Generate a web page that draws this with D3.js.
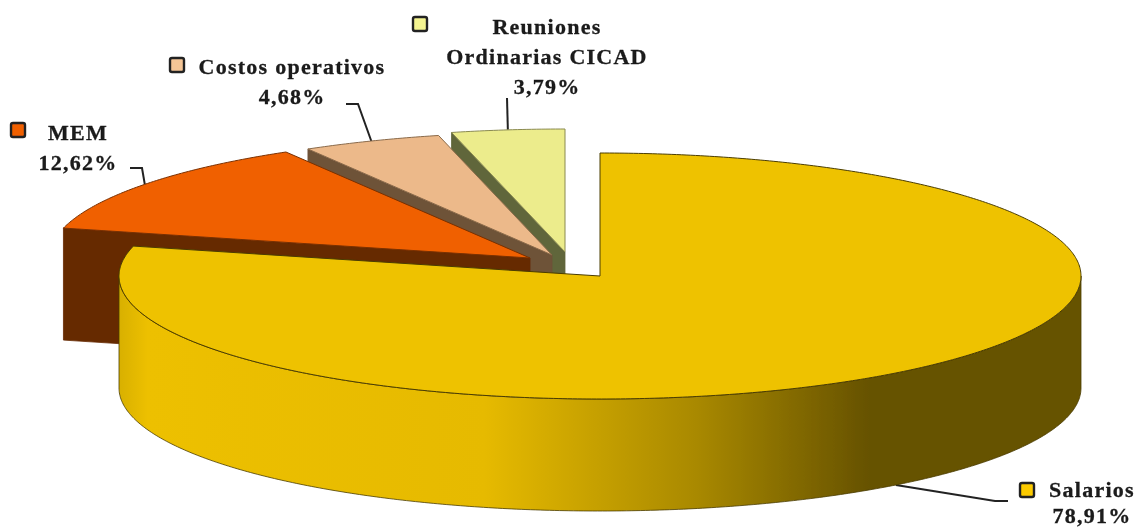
<!DOCTYPE html>
<html>
<head>
<meta charset="utf-8">
<script src="https://cdnjs.cloudflare.com/ajax/libs/d3/7.8.5/d3.min.js"></script>
<style>
  html, body { margin: 0; padding: 0; background: #fff; overflow: hidden; }
  text { font-family: "Liberation Serif", serif; font-weight: bold; font-size: 22px; fill: #1a1a1a; stroke: #1a1a1a; stroke-width: 0.3px; text-anchor: middle; letter-spacing: 1.25px; }
</style>
</head>
<body>
<svg id="pie3d" width="1136" height="529"></svg>
<script>
// data
const categories = ["Salarios", "MEM", "Costos operativos", "Reuniones Ordinarias CICAD"];
const values = [78.91, 12.62, 4.68, 3.79];
const valueLabels = ["78,91%", "12,62%", "4,68%", "3,79%"];
const labelLines = [["Salarios"], ["MEM"], ["Costos operativos"], ["Reuniones", "Ordinarias CICAD"]];

// styles, one per slice
const topColors = ["#eec200", "#f06000", "#ecb98a", "#ecec8c"];
const sideColors = ["#665200", "#662a00", "#6e5238", "#60663a"];
const swatchColors = ["#fccb00", "#f06000", "#f4c596", "#f4f490"];
const edgeColors = ["#4a3c00", "#7a3000", "#8a6a4a", "#8a8a50"];

// layout
const cx = 600, cy = 276, rx = 481, ry = 123, depth = 112;
const explode = [[0, 0], [-70, -18], [-48, -21], [-35, -24]];
const labelAt = [[1092, 497], [78, 140], [292, 74], [547, 34]];
const labelGap = [26, 30, 30, 30];
const swatchAt = [[1020, 483], [11, 123], [170, 58], [413, 17]];
const elbowAt = [[[995, 501], [1008, 501]], [[142, 168], [130, 168]], [[358, 104], [346, 104]], [[507, 98]]];

const svg = d3.select("#pie3d");

const xS = d3.scaleLinear().domain([-1, 1]).range([cx - rx, cx + rx]);
const yS = d3.scaleLinear().domain([-1, 1]).range([cy - ry, cy + ry]);

const slices = d3.pie().sort(null).startAngle(0).endAngle(2 * Math.PI)(values);

// angle clockwise from 12 o'clock, z is how far down the wall
function pt(i, a, z) {
    return [xS(Math.sin(a)) + explode[i][0], yS(-Math.cos(a)) + explode[i][1] + (z || 0)];
}
function apex(i, z) {
    return [xS(0) + explode[i][0], yS(0) + explode[i][1] + (z || 0)];
}
function arcPts(i, a0, a1, z) {
    const n = Math.ceil(Math.abs(a1 - a0) / 0.01);
    return d3.range(n + 1).map(k => pt(i, a0 + (a1 - a0) * k / n, z));
}
const line = d3.line();

// side gradient of the big slice
const stops = [
    [0, "#d8b000"], [0.03, "#edc000"], [0.38, "#e6ba00"], [0.6, "#a98900"],
    [0.78, "#665200"], [1, "#665200"]
];
const grad = svg.append("defs").append("linearGradient")
    .attr("id", "wall")
    .attr("gradientUnits", "userSpaceOnUse")
    .attr("x1", xS(-1)).attr("x2", xS(1)).attr("y1", 0).attr("y2", 0);
grad.selectAll("stop").data(stops).join("stop")
    .attr("offset", d => d[0])
    .attr("stop-color", d => d[1]);

const defsBlur = svg.select("defs").append("filter").attr("id", "soft");
defsBlur.append("feGaussianBlur").attr("stdDeviation", 0.45);

const g = svg.append("g").attr("filter", "url(#soft)");

// leaders go behind the pie
slices.forEach((s, i) => {
    const mid = (s.startAngle + s.endAngle) / 2;
    const start = i === 0 ? pt(i, mid, depth) : pt(i, mid);
    g.append("path")
        .attr("d", line([start].concat(elbowAt[i])))
        .attr("fill", "none")
        .attr("stroke", "#222")
        .attr("stroke-width", 2);
});

// back slices first so the front ones cover them
d3.range(slices.length - 1, -1, -1).forEach(i => {
    const s = slices[i];
    if (i === 0) {
        // front wall of the big slice
        const top = arcPts(i, Math.PI / 2, 1.5 * Math.PI, 0);
        const bot = arcPts(i, 1.5 * Math.PI, Math.PI / 2, depth);
        g.append("path")
            .attr("d", line(top.concat(bot)) + "Z")
            .attr("fill", "url(#wall)")
            .attr("stroke", "#4a3c00")
            .attr("stroke-width", 0.8);
    } else {
        // cut face on the start edge
        g.append("path")
            .attr("d", line([apex(i), pt(i, s.startAngle), pt(i, s.startAngle, depth), apex(i, depth)]) + "Z")
            .attr("fill", sideColors[i])
            .attr("stroke", sideColors[i])
            .attr("stroke-width", 0.8);
    }
    // top face
    g.append("path")
        .attr("d", line([apex(i)].concat(arcPts(i, s.startAngle, s.endAngle))) + "Z")
        .attr("fill", topColors[i])
        .attr("stroke", edgeColors[i])
        .attr("stroke-width", 1)
        .attr("stroke-linejoin", "round");
});

// labels and swatches
categories.forEach((c, i) => {
    g.append("rect")
        .attr("x", swatchAt[i][0]).attr("y", swatchAt[i][1])
        .attr("width", 14).attr("height", 14).attr("rx", 2)
        .attr("fill", swatchColors[i])
        .attr("stroke", "#222")
        .attr("stroke-width", 2.4);
    const rows = labelLines[i].concat([valueLabels[i]]);
    rows.forEach((t, k) => {
        g.append("text")
            .attr("x", labelAt[i][0])
            .attr("y", labelAt[i][1] + k * labelGap[i])
            .text(t);
    });
});
</script>
</body>
</html>
